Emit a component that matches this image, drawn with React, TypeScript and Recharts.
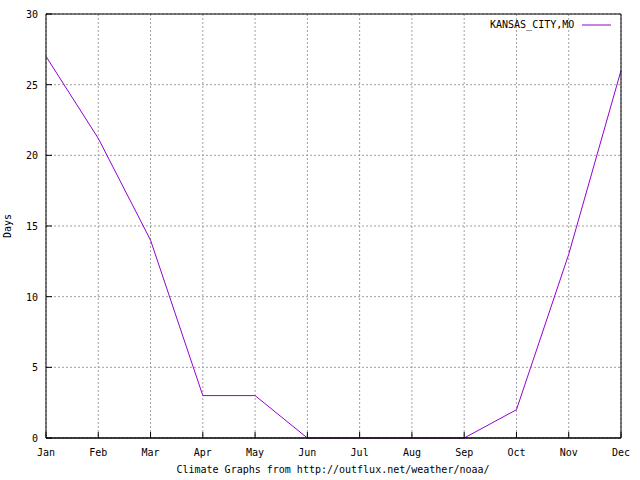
import React from 'react';
import { LineChart, Line, XAxis, YAxis, CartesianGrid, ReferenceLine } from 'recharts';

const months = ['Jan', 'Feb', 'Mar', 'Apr', 'May', 'Jun', 'Jul', 'Aug', 'Sep', 'Oct', 'Nov', 'Dec'];
const kansasCityDays = [27, 21.2, 14, 3, 3, 0, 0, 0, 0, 2, 13, 26];
const yTicks = [0, 5, 10, 15, 20, 25, 30];

const chartData = months.map((month, i) => ({ month, days: kansasCityDays[i] }));

const FONT = '"DejaVu Sans Mono", "Liberation Mono", monospace';
const TICK = 6;

const BottomTick = (props: any) => {
    const { x, y, payload } = props;
    return (
        <g>
            <line x1={x} x2={x} y1={y} y2={y - TICK} stroke="#000" />
            <text x={x} y={y + 18} textAnchor="middle" fontFamily={FONT} fontSize={10} fill="#000">
                {payload.value}
            </text>
        </g>
    );
};

const TopTick = (props: any) => {
    const { x, y } = props;
    return <line x1={x} x2={x} y1={y} y2={y + TICK} stroke="#000" />;
};

const LeftTick = (props: any) => {
    const { x, y, payload } = props;
    return (
        <g>
            <line x1={x} x2={x + TICK} y1={y} y2={y} stroke="#000" />
            <text x={x - 8} y={y + 4} textAnchor="end" fontFamily={FONT} fontSize={10} fill="#000">
                {payload.value}
            </text>
        </g>
    );
};

const RightTick = (props: any) => {
    const { x, y } = props;
    return <line x1={x} x2={x - TICK} y1={y} y2={y} stroke="#000" />;
};

const App: React.FC = () => {
    return (
        <div style={{ position: 'relative', width: 640, height: 480, background: '#fff' }}>
            <style>{`body{margin:0}`}</style>
            <LineChart width={640} height={480} data={chartData} margin={{ top: 14, right: 0, left: 0, bottom: 0 }}>
                <CartesianGrid stroke="#a0a0a0" strokeDasharray="2 2" />
                <XAxis
                    dataKey="month"
                    height={42}
                    stroke="#000"
                    tickLine={false}
                    tickSize={0}
                    tickMargin={0}
                    tick={<BottomTick />}
                    interval={0}
                    label={{
                        content: (p: any) => (
                            <text
                                x={333}
                                y={p.viewBox.y + 35}
                                textAnchor="middle"
                                fontFamily={FONT}
                                fontSize={10}
                                fill="#000"
                            >
                                Climate Graphs from http://outflux.net/weather/noaa/
                            </text>
                        ),
                    }}
                />
                <XAxis
                    xAxisId="top"
                    dataKey="month"
                    orientation="top"
                    height={0}
                    stroke="#000"
                    tickLine={false}
                    tickSize={0}
                    tickMargin={0}
                    tick={<TopTick />}
                    interval={0}
                />
                <YAxis
                    domain={[0, 30]}
                    ticks={yTicks}
                    width={46}
                    stroke="#000"
                    tickLine={false}
                    tickSize={0}
                    tickMargin={0}
                    tick={<LeftTick />}
                    interval={0}
                    label={{
                        content: (p: any) => {
                            const cx = 11;
                            const cy = p.viewBox.y + p.viewBox.height / 2;
                            return (
                                <text
                                    x={cx}
                                    y={cy}
                                    transform={`rotate(-90 ${cx} ${cy})`}
                                    textAnchor="middle"
                                    fontFamily={FONT}
                                    fontSize={10}
                                    fill="#000"
                                >
                                    Days
                                </text>
                            );
                        },
                    }}
                />
                <YAxis
                    yAxisId="right"
                    orientation="right"
                    domain={[0, 30]}
                    ticks={yTicks}
                    width={19}
                    stroke="#000"
                    tickLine={false}
                    tickSize={0}
                    tickMargin={0}
                    tick={<RightTick />}
                    interval={0}
                />
                <Line
                    type="linear"
                    dataKey="days"
                    stroke="#9400d3"
                    strokeWidth={1}
                    dot={false}
                    activeDot={false}
                    isAnimationActive={false}
                />
                <ReferenceLine y={30} stroke="#000" strokeWidth={1} />
                <ReferenceLine y={0} stroke="#000" strokeWidth={1} />
            </LineChart>
            <div
                style={{
                    position: 'absolute',
                    top: 19,
                    left: 490,
                    display: 'flex',
                    alignItems: 'center',
                    fontFamily: FONT,
                    fontSize: 10,
                    lineHeight: '12px',
                }}
            >
                <span>KANSAS_CITY,MO</span>
                <svg width={29} height={4} style={{ marginLeft: 8 }}>
                    <line x1={0} x2={29} y1={2} y2={2} stroke="#9400d3" />
                </svg>
            </div>
        </div>
    );
};

export default App;
